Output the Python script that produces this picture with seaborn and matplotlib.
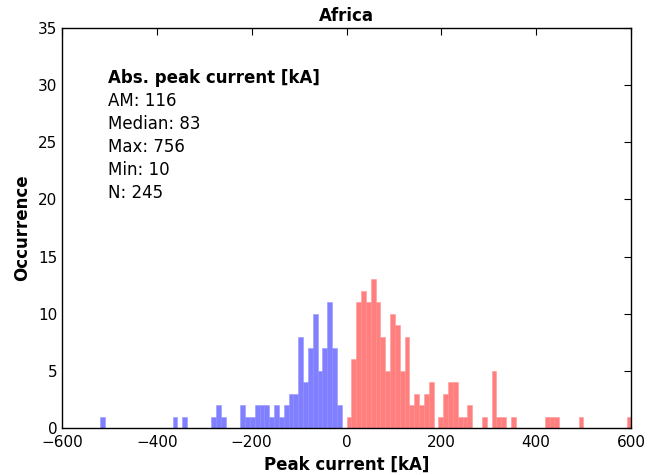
import numpy as np
import pandas as pd
import matplotlib
matplotlib.use('Agg')
import matplotlib.pyplot as plt
import seaborn as sns

# histogram counts, bin width ~10.2 kA
bin_width = 10.2
# positive currents, bins starting at 0 kA going right
pos_counts = [1, 6, 11, 12, 11, 13, 11, 8, 5, 10,
              9, 5, 8, 2, 3, 2, 3, 4, 0, 1,
              3, 4, 4, 1, 1, 2, 0, 0, 1, 0,
              5, 1, 1, 0, 1, 0, 0, 0, 0, 0,
              0, 1, 1, 1, 0, 0, 0, 0, 1, 0,
              0, 0, 0, 0, 0, 0, 0, 0, 1]
# negative currents, bins starting at -10 kA going left
neg_counts = [2, 7, 11, 7, 5, 10, 7, 4, 8, 3,
              3, 2, 1, 2, 1, 2, 2, 2, 1, 1,
              2, 0, 0, 0, 1, 2, 1, 0, 0, 0,
              0, 0, 1, 0, 1, 0, 0, 0, 0, 0,
              0, 0, 0, 0, 0, 0, 0, 0, 0, 1]

region = 'Africa'
stats_title = 'Abs. peak current [kA]'
stats_lines = ['AM: 116', 'Median: 83', 'Max: 756', 'Min: 10', 'N: 245']

pos_edges = 0 + bin_width * np.arange(len(pos_counts) + 1)
pos_centers = (pos_edges[:-1] + pos_edges[1:]) / 2
neg_edges = -10 - bin_width * np.arange(len(neg_counts) + 1)
neg_centers = (neg_edges[:-1] + neg_edges[1:]) / 2

pos = pd.DataFrame({'current': pos_centers, 'count': pos_counts})
neg = pd.DataFrame({'current': neg_centers, 'count': neg_counts})

sns.set_style('white')
plt.rcParams['font.family'] = ['DejaVu Sans']
plt.rcParams['text.color'] = 'black'
plt.rcParams['axes.labelcolor'] = 'black'

fig = plt.figure(figsize=(6.6, 4.75), dpi=100)
ax = fig.add_axes([0.094, 0.099, 0.862, 0.842])

sns.histplot(data=neg, x='current', weights='count', bins=list(neg_edges[::-1]),
             color='blue', alpha=0.5, edgecolor=(0.6, 0.6, 1.0), linewidth=0.4, ax=ax)
sns.histplot(data=pos, x='current', weights='count', bins=list(pos_edges),
             color='red', alpha=0.5, edgecolor=(1.0, 0.6, 0.6), linewidth=0.4, ax=ax)

ax.set_xlim(-600, 600)
ax.set_ylim(0, 35)
ax.set_xticks(range(-600, 601, 200))
ax.set_yticks(range(0, 36, 5))
ax.tick_params(direction='in', top=True, right=True, length=5, width=0.8,
               labelsize=11, colors='black')
ax.tick_params(axis='x', pad=5)
for s in ax.spines.values():
    s.set_color('black')
    s.set_linewidth(1.0)

ax.set_title(region, fontsize=12, fontweight='bold', pad=5)
ax.set_xlabel('Peak current [kA]', fontsize=12, fontweight='bold', labelpad=4)
ax.set_ylabel('Occurrence', fontsize=12, fontweight='bold', labelpad=5)

ax.text(0.081, 0.875, stats_title, transform=ax.transAxes, fontsize=12,
        fontweight='bold', va='center', ha='left')
for i, line in enumerate(stats_lines):
    ax.text(0.081, 0.875 - 0.0575 * (i + 1), line, transform=ax.transAxes,
            fontsize=12, va='center', ha='left')

fig.savefig('out.png', dpi=100)
